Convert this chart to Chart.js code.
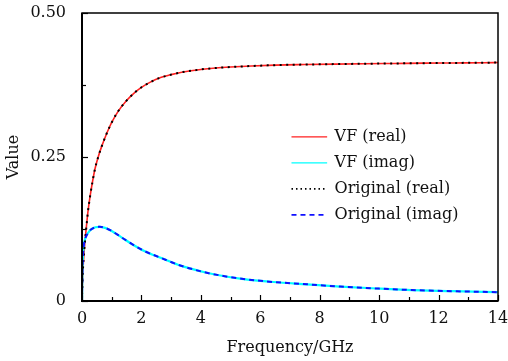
<!DOCTYPE html>
<html><head><meta charset="utf-8">
<script src="https://cdn.jsdelivr.net/npm/chart.js@4.4.0/dist/chart.umd.min.js"></script>
<style>html,body{margin:0;padding:0;background:#fff;}#wrap{width:508px;height:361px;}</style>
</head><body><div id="wrap"><canvas id="c" width="508" height="361"></canvas></div>
<script>
// Frequency points (GHz) and values
const freqReal = [0, 0.02, 0.05, 0.1, 0.15, 0.2, 0.27, 0.35, 0.44, 0.55, 0.66, 0.8, 0.9, 1.0, 1.2, 1.5, 1.8, 2.0, 2.3, 2.6, 3.0, 3.4, 4.0, 4.5, 5.0, 5.7, 6.5, 7.5, 8.5, 9.5, 10.5, 11.5, 12.5, 13.5, 14];
const realValues = [0, 0.04, 0.07, 0.103, 0.130, 0.155, 0.181, 0.206, 0.230, 0.251, 0.268, 0.287, 0.299, 0.310, 0.328, 0.348, 0.363, 0.371, 0.380, 0.387, 0.393, 0.3975, 0.402, 0.4045, 0.4062, 0.408, 0.4095, 0.4105, 0.4113, 0.4119, 0.4124, 0.4129, 0.4133, 0.4137, 0.414];
const freqImag = [0, 0.01, 0.02, 0.04, 0.07, 0.1, 0.2, 0.3, 0.45, 0.6, 0.8, 1.0, 1.33, 1.66, 2.11, 2.67, 3.23, 3.6, 4.2, 4.8, 5.32, 6.0, 6.44, 7.57, 8.69, 10.0, 11.1, 12.5, 14];
const imagValues = [0, 0.04, 0.065, 0.085, 0.1, 0.107, 0.118, 0.124, 0.128, 0.1288, 0.1265, 0.1215, 0.1105, 0.0995, 0.0865, 0.0746, 0.063, 0.057, 0.049, 0.043, 0.039, 0.035, 0.033, 0.029, 0.025, 0.0215, 0.019, 0.017, 0.0153];
const xTickLabels = [0, 2, 4, 6, 8, 10, 12, 14];
const yTickLabels = ['0', '0.25', '0.50'];
const seriesNames = ['VF (real)', 'VF (imag)', 'Original (real)', 'Original (imag)'];

const pts = (xs, ys) => xs.map((f, i) => ({x: f, y: ys[i]}));
const FONT = '"DejaVu Serif", serif';

const datasets = [
  {label: seriesNames[0], data: pts(freqReal, realValues), borderColor: '#ff2020', borderWidth: 1.6, borderDash: [], order: 3},
  {label: seriesNames[1], data: pts(freqImag, imagValues), borderColor: '#00ffff', borderWidth: 2.2, borderDash: [], order: 2},
  {label: seriesNames[2], data: pts(freqReal, realValues), borderColor: '#000000', borderWidth: 2, borderDash: [2, 4.5], order: 1},
  {label: seriesNames[3], data: pts(freqImag, imagValues), borderColor: '#1010ff', borderWidth: 2, borderDash: [5, 4], order: 0}
].map(d => Object.assign(d, {pointRadius: 0, fill: false, cubicInterpolationMode: 'monotone', tension: 0}));

const framePlugin = {
  id: 'frame',
  afterDatasetsDraw(chart) {
    const {ctx, chartArea: a, scales: {x, y}} = chart;
    ctx.save();
    ctx.strokeStyle = '#000';
    ctx.lineWidth = 1.2;
    ctx.setLineDash([]);
    x.ticks.forEach(t => {
      const px = Math.round(x.getPixelForValue(t.value)) + 0.5;
      const len = (Math.abs(t.value % 2) < 1e-6) ? 6 : 4;
      ctx.beginPath(); ctx.moveTo(px, a.bottom); ctx.lineTo(px, a.bottom - len); ctx.stroke();
    });
    y.ticks.forEach(t => {
      const py = Math.round(y.getPixelForValue(t.value)) + 0.5;
      const r = t.value / 0.25;
      const len = (Math.abs(r - Math.round(r)) < 1e-6) ? 6 : 4;
      ctx.beginPath(); ctx.moveTo(a.left, py); ctx.lineTo(a.left + len, py); ctx.stroke();
    });
    ctx.lineWidth = 1.5;
    ctx.strokeRect(a.left, a.top, a.right - a.left, a.bottom - a.top);
    ctx.lineWidth = 2;
    ctx.beginPath(); ctx.moveTo(a.left, a.top); ctx.lineTo(a.left, a.bottom); ctx.lineTo(a.right, a.bottom); ctx.stroke();

    // legend inside the plot area
    const lx0 = x.getPixelForValue(7.05), lx1 = x.getPixelForValue(8.25), tx = x.getPixelForValue(8.5);
    let ly = y.getPixelForValue(0.285);
    ctx.font = '16px ' + FONT;
    ctx.textBaseline = 'middle';
    ctx.textAlign = 'left';
    ctx.fillStyle = '#111';
    chart.data.datasets.forEach(d => {
      ctx.strokeStyle = d.borderColor;
      ctx.lineWidth = d.label.startsWith('VF') ? 1.4 : 1.6;
      ctx.setLineDash(d.label === 'Original (real)' ? [1.5, 3] : d.borderDash);
      ctx.beginPath(); ctx.moveTo(lx0, ly); ctx.lineTo(lx1, ly); ctx.stroke();
      ctx.setLineDash([]);
      ctx.fillText(d.label, tx, ly);
      ly += 26;
    });
    ctx.restore();
  }
};

new Chart(document.getElementById('c'), {
  type: 'line',
  data: {datasets},
  options: {
    responsive: false,
    animation: false,
    devicePixelRatio: 1,
    layout: {padding: {top: 13, right: 10, left: 0, bottom: 0}},
    plugins: {legend: {display: false}, tooltip: {enabled: false}},
    scales: {
      x: {
        type: 'linear', min: 0, max: 14,
        ticks: {stepSize: 1, color: '#111', font: {family: FONT, size: 16}, padding: 4, maxRotation: 0,
          callback: v => xTickLabels.includes(v) ? String(v) : ''},
        grid: {display: false, drawTicks: true, tickLength: 4, color: 'rgba(0,0,0,0)'},
        border: {display: false},
        title: {display: true, text: 'Frequency/GHz', color: '#111', font: {family: FONT, size: 16}, padding: {top: 2}},
        afterFit: s => { s.height = 60; s.paddingLeft = 0; s.paddingRight = 0; }
      },
      y: {
        type: 'linear', min: 0, max: 0.5,
        ticks: {stepSize: 0.125, color: '#111', font: {family: FONT, size: 16}, padding: 8,
          callback: v => { const r = v / 0.25; return Math.abs(r - Math.round(r)) < 1e-6 ? yTickLabels[Math.round(r)] : ''; }},
        grid: {display: false, color: 'rgba(0,0,0,0)'},
        border: {display: false},
        title: {display: true, text: 'Value', color: '#111', font: {family: FONT, size: 16}, padding: {bottom: 2}},
        afterFit: s => { s.width = 82; s.paddingTop = 0; s.paddingBottom = 0; }
      }
    }
  },
  plugins: [framePlugin]
});
</script>
</body></html>
